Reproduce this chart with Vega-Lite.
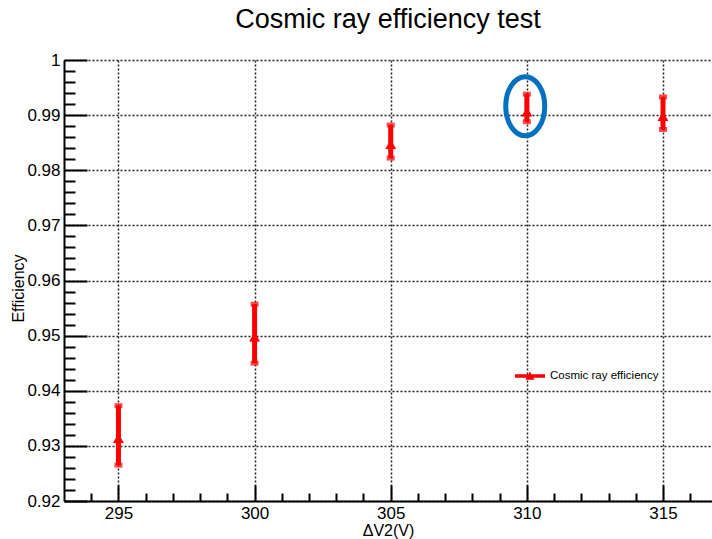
{
  "$schema": "https://vega.github.io/schema/vega-lite/v6.json",
  "autosize": {"type": "none"},
  "padding": {"left": 64, "top": 60, "right": 0, "bottom": 38},
  "width": 648,
  "height": 441,
  "background": "white",
  "title": {"text": "Cosmic ray efficiency test", "fontSize": 27, "font": "Liberation Sans", "fontWeight": "normal", "color": "black", "anchor": "middle", "offset": 17},
  "config": {
    "view": {"stroke": null},
    "axis": {"labelFont": "Liberation Sans", "titleFont": "Liberation Sans", "labelColor": "black", "titleColor": "black", "titleFontWeight": "normal", "tickColor": "black", "domainColor": "black"}
  },
  "datasets": {
    "eff": [
      {"dv2": 295, "eff": 0.9314, "lo": 0.9265, "hi": 0.9373, "series": "Cosmic ray efficiency"},
      {"dv2": 300, "eff": 0.9498, "lo": 0.9450, "hi": 0.9557, "series": "Cosmic ray efficiency"},
      {"dv2": 305, "eff": 0.9847, "lo": 0.9822, "hi": 0.9882, "series": "Cosmic ray efficiency"},
      {"dv2": 310, "eff": 0.9906, "lo": 0.9888, "hi": 0.9938, "series": "Cosmic ray efficiency"},
      {"dv2": 315, "eff": 0.9898, "lo": 0.9874, "hi": 0.9933, "series": "Cosmic ray efficiency"}
    ],
    "mark": [
      {"dv2": 309.94, "eff": 0.99160}
    ]
  },
  "layer": [
    {
      "data": {"name": "eff"},
      "mark": {"type": "rule", "color": "red", "strokeWidth": 5},
      "encoding": {
        "x": {"field": "dv2", "type": "quantitative", "scale": {"domain": [293, 316.8], "nice": false, "zero": false},
          "axis": {"values": [295, 300, 305, 310, 315], "format": "d", "tickSize": -16, "tickWidth": 2, "labelPadding": 20, "labelFontSize": 17,
            "domainWidth": 2, "grid": true, "gridDash": [2, 2], "gridColor": "#222", "gridWidth": 1.5,
            "title": "ΔV2(V)", "titleFontSize": 16, "titlePadding": 1, "orient": "bottom"}},
        "y": {"field": "lo", "type": "quantitative", "scale": {"domain": [0.92, 1], "nice": false, "zero": false},
          "axis": {"values": [0.92, 0.93, 0.94, 0.95, 0.96, 0.97, 0.98, 0.99, 1], "labelExpr": "format(datum.value, '.2~f')", "tickSize": -23, "tickWidth": 2, "labelPadding": 27, "labelFontSize": 17,
            "domainWidth": 2, "grid": true, "gridDash": [2, 2], "gridColor": "#222", "gridWidth": 1.5,
            "title": "Efficiency", "titleFontSize": 16, "titleX": -46, "titleY": 228, "titleBaseline": "middle", "titleAlign": "center", "orient": "left"}},
        "y2": {"field": "hi"}
      }
    },
    {
      "data": {"name": "eff"},
      "mark": {"type": "tick", "color": "red", "orient": "horizontal", "size": 8, "thickness": 5},
      "encoding": {
        "x": {"field": "dv2", "type": "quantitative", "axis": {"values": [294, 296, 297, 298, 299, 301, 302, 303, 304, 306, 307, 308, 309, 311, 312, 313, 314, 316], "tickSize": -8, "tickWidth": 2, "labels": false, "domain": false, "grid": false, "title": null, "orient": "bottom"}},
        "y": {"field": "lo", "type": "quantitative", "axis": {"values": [0.922, 0.924, 0.926, 0.928, 0.932, 0.934, 0.936, 0.938, 0.942, 0.944, 0.946, 0.948, 0.952, 0.954, 0.956, 0.958, 0.962, 0.964, 0.966, 0.968, 0.972, 0.974, 0.976, 0.978, 0.982, 0.984, 0.986, 0.988, 0.992, 0.994, 0.996, 0.998], "tickSize": -11, "tickWidth": 2, "labels": false, "domain": false, "grid": false, "title": null, "orient": "left"}}
      }
    },
    {
      "data": {"name": "eff"},
      "mark": {"type": "tick", "color": "red", "orient": "horizontal", "size": 8, "thickness": 5},
      "encoding": {
        "x": {"field": "dv2", "type": "quantitative", "axis": null},
        "y": {"field": "hi", "type": "quantitative", "axis": null}
      }
    },
    {
      "data": {"name": "eff"},
      "mark": {"type": "point", "filled": true, "opacity": 1, "size": 120, "shape": "triangle-up", "strokeWidth": 0},
      "encoding": {
        "x": {"field": "dv2", "type": "quantitative", "axis": null},
        "y": {"field": "eff", "type": "quantitative", "axis": null},
        "color": {"field": "series", "type": "nominal", "scale": {"range": ["red"]},
          "legend": {"title": null, "orient": "none", "legendX": 451, "legendY": 301, "symbolType": "M -1 -0.12 L 1 -0.12 L 1 0.12 L -1 0.12 Z M -0.3 0.25 L 0 -0.3 L 0.3 0.25 Z", "symbolSize": 900, "symbolStrokeWidth": 0, "symbolFillColor": "red", "labelFont": "Liberation Sans", "labelFontSize": 11.5, "labelColor": "black", "labelOffset": 5}}
      }
    },
    {
      "data": {"name": "mark"},
      "mark": {"type": "point", "filled": false, "opacity": 1, "color": "#0070C0", "strokeWidth": 5, "size": 3481, "shape": "M 0 -1 A 0.661 1 0 1 1 0 1 A 0.661 1 0 1 1 0 -1 Z"},
      "encoding": {
        "x": {"field": "dv2", "type": "quantitative", "axis": null},
        "y": {"field": "eff", "type": "quantitative", "axis": null}
      }
    }
  ],
  "resolve": {"axis": {"x": "independent", "y": "independent"}}
}
